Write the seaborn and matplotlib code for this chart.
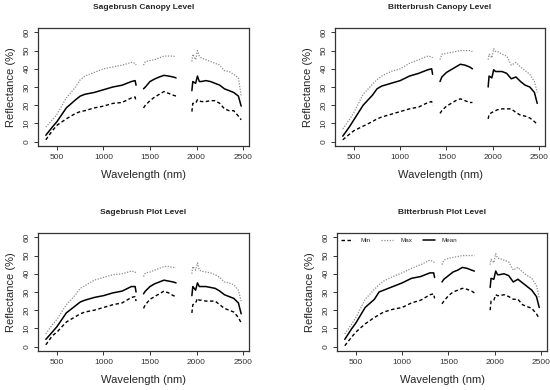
import matplotlib
matplotlib.use("Agg")
import matplotlib.pyplot as plt
from matplotlib.lines import Line2D
import numpy as np
import seaborn as sns

# ── Data ──────────────────────────────────────────────────────────────────────
WL1 = [380, 450, 500, 600, 700, 750, 800, 900, 1000, 1100, 1200, 1300, 1340, 1350]
WL2 = [1430, 1450, 1500, 1550, 1600, 1650, 1700, 1750, 1780]
WL3 = [1950, 1960, 1990, 2010, 2030, 2050, 2100, 2150, 2200, 2250, 2300, 2350, 2400, 2450, 2480]

# Sagebrush canopy
SC_MIN = [1, 6, 9, 12.5, 15.5, 16.5, 17, 18.5, 19.5, 21, 21.5, 24, 24.5, 22,
          18.5, 20, 22.5, 24.5, 26, 27.5, 26.5, 25.5, 25,
          16.5, 21, 21, 23, 22.5, 22, 22, 22.5, 22.5, 21, 18, 17, 17, 14, 12]
SC_MAX = [8, 12, 15, 24, 30, 34, 36, 38, 40, 41, 42, 43.5, 43, 42,
          42, 44, 44.5, 45, 46, 47, 47, 47, 46.5,
          44, 48, 45, 50, 47, 46, 45, 44, 43, 42, 39, 38.5, 37, 35, 25]
SC_MEAN = [3.5, 8, 11, 18.5, 23, 25, 26, 27, 28.5, 30, 31, 33, 33.5, 31,
           29, 30, 33, 34.4, 35.5, 36.4, 36, 35.5, 35,
           28, 33, 32, 36, 33, 33, 33.5, 33, 32, 31, 29, 28, 27, 25, 19.5]

# Bitterbrush canopy
BC_MIN = [1, 4, 6, 8.5, 11, 12.5, 13.5, 15, 16.5, 18, 19, 21.5, 22, 20,
          15.5, 17, 19.5, 21, 22.5, 23.5, 22.5, 21.5, 21.5,
          12.5, 15, 16, 16.5, 17, 17.5, 18, 18, 18, 16, 14.5, 14, 13, 11, 9.5]
BC_MAX = [7, 12, 16, 26, 31.5, 34, 36, 38.5, 40, 43, 45, 47, 46.5, 46,
          45, 48, 48.5, 49, 49.5, 50, 50, 50, 49.5,
          45, 48, 46, 51, 49.5, 49.5, 48, 47, 42, 43.5, 41, 39, 37, 33, 27]
BC_MEAN = [3, 8, 12, 20, 25.5, 29, 30.5, 32, 33.5, 36, 37.5, 39.5, 40, 37,
           33, 35.5, 38, 39.5, 41, 42.5, 42, 41, 40,
           30, 36, 35, 39.5, 38.5, 38.5, 38.5, 37.5, 34.5, 35.5, 33, 31, 30, 27, 21]

# Sagebrush plot
SP_MIN = [1, 6, 8, 13.5, 16.5, 18, 19, 20, 21.5, 23, 24, 27, 27.5, 25,
          21, 23, 26, 27.5, 29, 30.5, 29.5, 28, 27.5,
          18.5, 23, 24, 26.5, 25.5, 25.5, 25, 25, 25, 23, 21, 20, 19, 16, 13]
SP_MAX = [7, 12, 15, 23, 28.5, 32, 33.5, 36.5, 38, 39.5, 40, 41.5, 41, 40,
          38.5, 40.5, 41, 42, 43, 44, 44, 43.5, 43.5,
          40, 44, 42, 46, 42, 41.5, 41, 40.5, 39.5, 38, 35.5, 35, 34, 31, 25]
SP_MEAN = [4, 8, 11, 18.5, 22.5, 24.5, 25.5, 27, 28, 29.5, 30.5, 33, 33, 30,
           29, 30.5, 33, 34.5, 35.5, 36.5, 36, 35.5, 35,
           28, 33, 31, 35, 33, 33, 33, 32.5, 32, 30.5, 28.5, 27.5, 26.5, 24, 18]

# Bitterbrush plot
BP_MIN = [0.5, 5, 8, 12.5, 16, 17.5, 19, 20.5, 21.5, 24, 25.5, 28.5, 29, 26.5,
          23.5, 25, 28, 30, 31, 32, 31.5, 30.5, 29.5,
          20, 25, 25.5, 28.5, 28, 28, 28.5, 27.5, 26, 26, 23, 22, 21, 18, 15.5]
BP_MAX = [7, 12, 16, 26, 31.5, 34, 36, 38.5, 40.5, 43, 45, 47.5, 46.5, 46,
          45, 47.5, 48.5, 49, 49.5, 50, 50, 50, 50,
          45, 48, 46, 51, 48.5, 48.5, 47.5, 46.5, 42, 43.5, 41, 39, 37.5, 33.5, 27]
BP_MEAN = [4, 9.5, 13, 21.5, 26, 30, 31, 33, 35, 37.5, 38.5, 40.5, 40.5, 38,
           35.5, 37, 39, 41, 42, 43.5, 43, 42, 41.5,
           32.5, 37.5, 37, 41.5, 39.5, 39.5, 40, 39, 35.5, 37, 35, 33, 31, 27.5, 21.5]

PANELS = [
    ("Sagebrush Canopy Level", SC_MIN, SC_MAX, SC_MEAN),
    ("Bitterbrush Canopy Level", BC_MIN, BC_MAX, BC_MEAN),
    ("Sagebrush Plot Level", SP_MIN, SP_MAX, SP_MEAN),
    ("Bitterbrush Plot Level", BP_MIN, BP_MAX, BP_MEAN),
]

# ── Aesthetics ────────────────────────────────────────────────────────────────
sns.set_theme(style="white")
plt.rcParams["font.family"] = ["Liberation Sans", "DejaVu Sans"]

STYLES = {
    "Min":  dict(color="black", linestyle=(0, (2.5, 1.8)), linewidth=1.0),
    "Max":  dict(color="#8c8c8c", linestyle=(0, (1, 1.2)), linewidth=0.9),
    "Mean": dict(color="black", linestyle="-", linewidth=1.1),
}

# axes rectangles in pixels: left, top, right, bottom
BOXES = [(38, 28, 249, 146), (335, 28, 545, 146),
         (38, 233, 249, 351), (337, 233, 547, 351)]

W, H = 550, 390
fig = plt.figure(figsize=(W / 100, H / 100), dpi=100)

n1, n2 = len(WL1), len(WL2)
segments = [(WL1, slice(0, n1)), (WL2, slice(n1, n1 + n2)), (WL3, slice(n1 + n2, None))]

for i, ((title, vmin, vmax, vmean), (l, t, r, b)) in enumerate(zip(PANELS, BOXES)):
    ax = fig.add_axes([l / W, 1 - b / H, (r - l) / W, (b - t) / H])
    for name, vals in (("Min", vmin), ("Max", vmax), ("Mean", vmean)):
        for wl, sl in segments:
            sns.lineplot(x=wl, y=vals[sl], ax=ax, **STYLES[name])

    ax.set_xlim(296, 2564)
    ax.set_ylim(-2.4, 62.4)
    ax.set_xticks([500, 1000, 1500, 2000, 2500])
    ax.set_yticks([0, 10, 20, 30, 40, 50, 60])
    ax.tick_params(axis="both", direction="out", length=3, width=0.7,
                   labelsize=6, pad=2.5, colors="#333333", bottom=True, left=True)
    for lab in ax.get_yticklabels():
        lab.set_rotation(90)
        lab.set_va("center")
    for sp in ax.spines.values():
        sp.set_color("#333333")
        sp.set_linewidth(0.9)

    ax.set_title(title, fontsize=6, fontweight="bold", pad=14)
    ax.set_xlabel("Wavelength (nm)", fontsize=8)
    ax.set_ylabel("Reflectance (%)", fontsize=8)
    ax.xaxis.set_label_coords(0.5, -0.2)
    ax.yaxis.set_label_coords(-0.105, 0.5)

    if i == 3:
        handles = [Line2D([], [], **STYLES[k]) for k in ("Min", "Max", "Mean")]
        ax.legend(handles, ["Min", "Max", "Mean"], loc="upper left", ncol=3,
                  frameon=False, fontsize=4.5, handlelength=1.9, handletextpad=1.1,
                  columnspacing=1.8, borderaxespad=0.3)

fig.savefig("out.png", dpi=100)
